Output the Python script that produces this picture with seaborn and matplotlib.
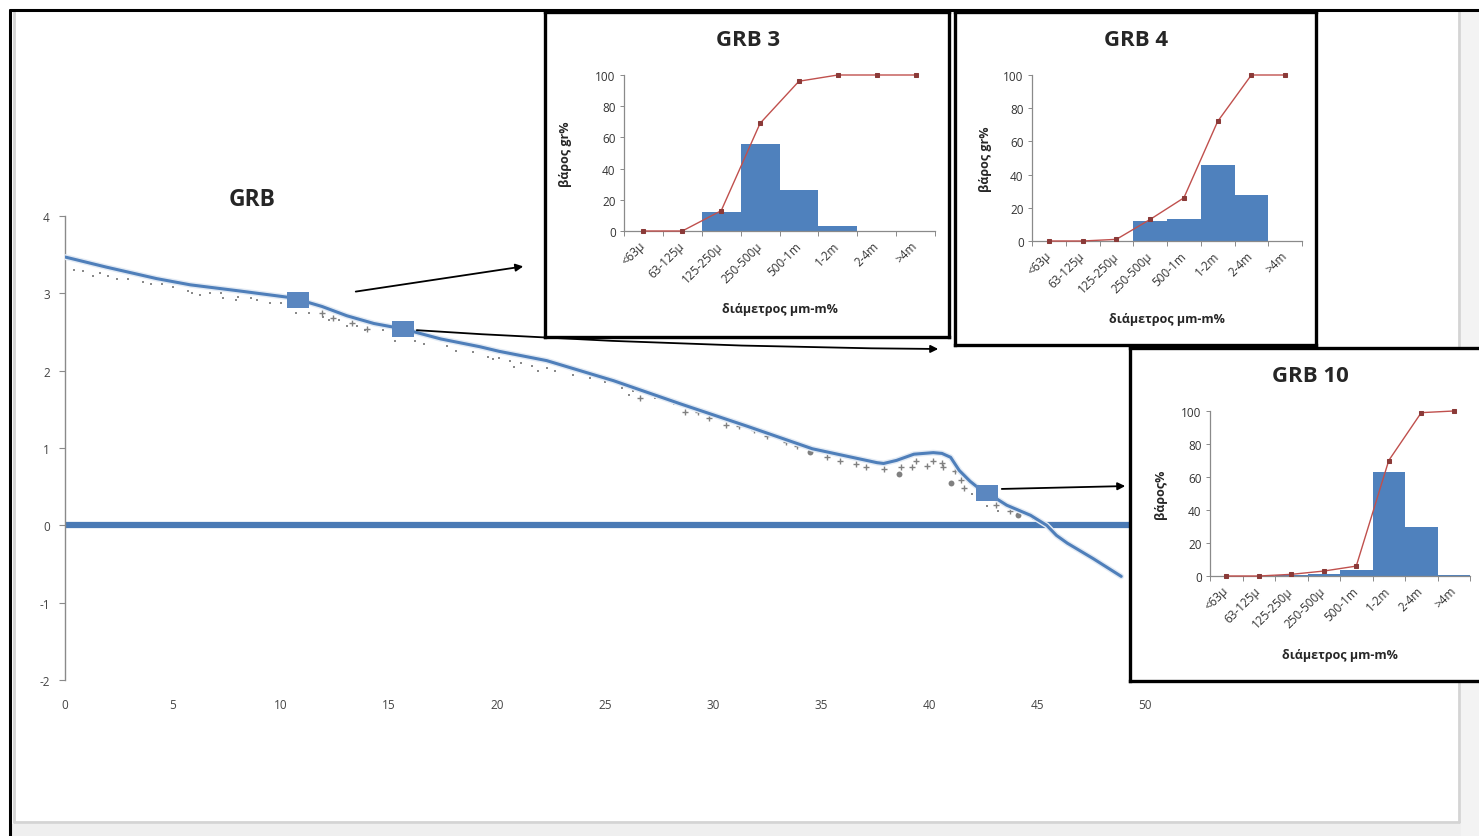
import numpy as np
import pandas as pd
import matplotlib
matplotlib.use("Agg")
import matplotlib.pyplot as plt
import matplotlib.patheffects as pe
from matplotlib.patches import Rectangle, FancyArrowPatch
from matplotlib.lines import Line2D
import seaborn as sns

# ---------------- data ----------------
profile_x = [0, 1.9, 4.25, 5.8, 8.1, 10.3, 10.8, 11.9, 13.05, 14.3, 15.65, 17.4, 19.2, 20.1,
             22.3, 25.4, 28.5, 31.6, 34.6, 37.6, 37.9, 38.5, 39.3, 40.2, 40.6, 41.0, 41.4,
             41.9, 42.3, 42.7, 43.6, 44.7, 45.45, 45.9, 46.4, 47.6, 48.9]
profile_y = [3.47, 3.34, 3.19, 3.11, 3.03, 2.95, 2.92, 2.83, 2.71, 2.61, 2.54, 2.41, 2.31, 2.25,
             2.13, 1.87, 1.57, 1.28, 0.99, 0.81, 0.80, 0.84, 0.92, 0.94, 0.93, 0.88, 0.71,
             0.57, 0.48, 0.42, 0.26, 0.13, 0.0, -0.13, -0.23, -0.43, -0.66]

sample_x = [10.8, 15.65, 42.7]
sample_y = [2.92, 2.54, 0.42]

dots_x = [0.4, 0.85, 1.3, 1.6, 2.0, 2.4, 2.9, 3.6, 4.0, 4.5, 5.0, 5.7, 5.9, 6.25, 6.7, 7.2, 7.3,
          7.9, 8.0, 8.6, 8.9, 9.5, 10.0, 10.7, 11.3, 11.95, 12.2, 12.7, 13.05, 13.5, 13.9, 14.7,
          15.3, 16.2, 16.6, 17.7, 18.1, 18.9, 19.6, 19.8, 20.1, 20.6, 20.8, 21.1, 21.6, 21.9,
          22.3, 22.7, 23.5, 24.3, 25.0, 25.8, 26.1, 26.3, 27.3, 28.2, 42.0, 42.7, 43.2, 44.8, 45.5]
dots_y = [3.30, 3.29, 3.23, 3.26, 3.22, 3.19, 3.19, 3.15, 3.12, 3.12, 3.08, 3.03, 3.01, 2.98, 3.0,
          3.0, 2.94, 2.92, 2.95, 2.94, 2.92, 2.88, 2.88, 2.75, 2.75, 2.70, 2.65, 2.66, 2.58, 2.58,
          2.52, 2.52, 2.39, 2.39, 2.34, 2.32, 2.26, 2.24, 2.18, 2.15, 2.17, 2.13, 2.05, 2.10, 2.06,
          1.99, 2.04, 1.99, 1.95, 1.91, 1.85, 1.78, 1.68, 1.74, 1.65, 1.57, 0.40, 0.25, 0.18, 0.08,
          -0.04]

cross_x = [11.9, 12.4, 13.3, 14.0, 26.6, 28.7, 29.3, 29.8, 30.6, 31.2, 31.9, 32.5, 33.4, 33.9,
           35.3, 35.9, 36.6, 37.1, 37.9, 38.7, 39.2, 39.4, 39.9, 40.2, 40.6, 40.65, 41.2, 41.5,
           41.6, 43.1, 43.75]
cross_y = [2.74, 2.68, 2.62, 2.54, 1.65, 1.47, 1.47, 1.39, 1.30, 1.28, 1.23, 1.15, 1.08, 1.03,
           0.88, 0.83, 0.79, 0.75, 0.73, 0.75, 0.75, 0.83, 0.77, 0.83, 0.80, 0.76, 0.70, 0.58,
           0.48, 0.26, 0.18]

big_x = [38.6, 41.0, 34.5, 44.1]
big_y = [0.66, 0.55, 0.95, 0.14]

sea_x = [0, 50]
sea_y = [0, 0]

main_xticks = [0, 5, 10, 15, 20, 25, 30, 35, 40, 45, 50]
main_yticks = [-2, -1, 0, 1, 2, 3, 4]

size_classes = ["<63μ", "63-125μ", "125-250μ", "250-500μ", "500-1m", "1-2m", "2-4m", ">4m"]

grb3_pct = [0, 0, 12, 56, 26, 3.5, 0, 0]
grb3_cum = [0, 0, 13, 69, 96, 100, 100, 100]
grb4_pct = [0, 0, 0, 12, 13, 46, 27.5, 0]
grb4_cum = [0, 0, 1, 13, 26, 72, 100, 100]
grb10_pct = [0, 0, 0.5, 1.5, 3.5, 63, 30, 0.5]
grb10_cum = [0, 0, 1, 3, 6, 70, 99, 100]

# ---------------- style ----------------
sns.set_style("white")
plt.rcParams["font.family"] = ["Open Sans", "DejaVu Sans"]
plt.rcParams["axes.unicode_minus"] = False

W, H = 1479, 837
fig = plt.figure(figsize=(W / 100, H / 100), dpi=100)
fig.patch.set_facecolor("white")


def rect(x0, y0, x1, y1):
    return [x0 / W, 1 - y1 / H, (x1 - x0) / W, (y1 - y0) / H]


def fpt(x, y):
    return (x / W, 1 - y / H)


BLUE = "#4f81bd"
LINEBLUE = "#4a7ab5"
RED = "#c0504d"
DARKRED = "#8b3a38"
GRAY = "#808080"
AXGRAY = "#8a8a8a"

# ---------------- outer frame ----------------
fig.add_artist(Rectangle(fpt(11, 837), (W - 11) / W, 12 / H, transform=fig.transFigure,
                         facecolor="#efefef", edgecolor="none", zorder=-5))
fig.add_artist(Rectangle(fpt(1461, 837), 18 / W, (837 - 12) / H, transform=fig.transFigure,
                         facecolor="#f3f3f3", edgecolor="none", zorder=-5))
for xs, ys, c, lw in [([14, 14], [13, 823], "#d4d4d4", 2.0),
                      ([1459, 1459], [13, 823], "#d4d4d4", 2.0),
                      ([14, 1459], [823, 823], "#d4d4d4", 2.0),
                      ([10, 1479], [11, 11], "black", 2.2),
                      ([10, 10], [11, 837], "black", 2.2)]:
    fig.add_artist(Line2D([x / W for x in xs], [1 - y / H for y in ys],
                          transform=fig.transFigure, color=c, lw=lw, zorder=-4))

# ---------------- main chart ----------------
ax = fig.add_axes(rect(65, 217, 1145, 681), zorder=0)
ax.set_facecolor("none")

sns.lineplot(x=sea_x, y=sea_y, ax=ax, color=LINEBLUE, lw=4.5, zorder=2)
sns.scatterplot(x=dots_x, y=dots_y, ax=ax, color="#8a8a8a", marker="s", s=3, linewidth=0, zorder=3)
sns.scatterplot(x=cross_x, y=cross_y, ax=ax, color=GRAY, marker="+", s=18, linewidth=1.0, zorder=3)
sns.scatterplot(x=big_x, y=big_y, ax=ax, color=GRAY, marker="o", s=18, linewidth=0, zorder=3)
sns.lineplot(x=profile_x, y=profile_y, ax=ax, color="#4f7fba", lw=2.2, zorder=4, sort=False,
             path_effects=[pe.Stroke(linewidth=4.2, foreground="#e2eaf4"), pe.Normal()])
rect_marker = [(-1.35, -1), (1.35, -1), (1.35, 1), (-1.35, 1), (-1.35, -1)]
sns.scatterplot(x=sample_x, y=sample_y, ax=ax, color="#5b87c0", marker=rect_marker, s=250,
                linewidth=0, zorder=5)

ax.set_xlim(0, 50)
ax.set_ylim(-2, 4)
ax.set_xticks(main_xticks)
ax.set_yticks(main_yticks)
ax.set_xticklabels([str(v) for v in main_xticks])
ax.set_yticklabels([str(v) for v in main_yticks])
for sp in ["top", "right", "bottom"]:
    ax.spines[sp].set_visible(False)
ax.spines["left"].set_color(AXGRAY)
ax.spines["left"].set_linewidth(1.0)
ax.tick_params(axis="y", direction="out", length=4, width=0.8, color=AXGRAY, pad=7,
               labelsize=8.5, labelcolor="#444444", left=True)
ax.tick_params(axis="x", length=0, pad=13, labelsize=8.5, labelcolor="#444444")
ax.set_xlabel("")
ax.set_ylabel("")
fig.text(*fpt(252, 200), "GRB", fontsize=16.5, fontweight="bold", ha="center", va="center")

# ---------------- arrows ----------------
arrow_kw = dict(transform=fig.transFigure, arrowstyle="-|>", mutation_scale=11,
                color="black", lw=1.3, zorder=1.5)
fig.add_artist(FancyArrowPatch(fpt(353, 293), fpt(526, 267), **arrow_kw))
fig.add_artist(FancyArrowPatch(fpt(414, 331), fpt(941, 350),
                               connectionstyle="arc3,rad=0.015", **arrow_kw))
fig.add_artist(FancyArrowPatch(fpt(999, 490), fpt(1128, 487), **arrow_kw))


# ---------------- insets ----------------
def inset(box, axbox, title, title_pos, pct, cum, ylabel, ylab_dx):
    frame = fig.add_axes(rect(*box), zorder=2)
    frame.set_facecolor("white")
    frame.set_xticks([])
    frame.set_yticks([])
    for sp in frame.spines.values():
        sp.set_color("black")
        sp.set_linewidth(2.4)
    fig.text(*fpt(*title_pos), title, fontsize=16, fontweight="bold", ha="center", va="center",
             zorder=4)

    a = fig.add_axes(rect(*axbox), zorder=3)
    a.set_facecolor("none")
    df = pd.DataFrame({"cls": size_classes, "pct": pct})
    sns.barplot(data=df, x="cls", y="pct", ax=a, width=1.0, color=BLUE, saturation=1,
                order=size_classes, zorder=2, linewidth=0)
    sns.lineplot(x=np.arange(len(cum)), y=cum, ax=a, color=RED, lw=1.0, marker="s",
                 markersize=3.2, markerfacecolor=DARKRED, markeredgecolor=DARKRED,
                 zorder=3, clip_on=False)
    a.set_xlim(-0.5, len(size_classes) - 0.5)
    a.set_ylim(0, 100)
    a.set_yticks([0, 20, 40, 60, 80, 100])
    a.set_xticks(np.arange(len(size_classes)))
    a.set_xticklabels(size_classes, rotation=45, ha="right", va="center",
                      rotation_mode="anchor", fontsize=8.5, color="#333333")
    a.set_xticks(np.arange(-0.5, len(size_classes)), minor=True)
    a.tick_params(axis="x", which="major", length=0, pad=9)
    a.tick_params(axis="x", which="minor", length=3.5, width=0.7, color=AXGRAY,
                  direction="out", bottom=True)
    a.tick_params(axis="y", length=3, width=0.7, color=AXGRAY, direction="out", left=True,
                  labelsize=8.5, labelcolor="#333333", pad=3)
    for sp in ["top", "right"]:
        a.spines[sp].set_visible(False)
    for sp in ["left", "bottom"]:
        a.spines[sp].set_color(AXGRAY)
        a.spines[sp].set_linewidth(0.9)
    a.set_xlabel("")
    a.set_ylabel("")
    w = axbox[2] - axbox[0]
    h = axbox[3] - axbox[1]
    a.text(0.5, -78 / h, "διάμετρος μm-m%", transform=a.transAxes, ha="center", va="center",
           fontsize=9, fontweight="bold")
    a.text(-ylab_dx / w, 0.5, ylabel, transform=a.transAxes, ha="center", va="center",
           rotation=90, fontsize=9, fontweight="bold")
    return a


inset((545, 13, 949, 338), (624, 76, 935, 232), "GRB 3", (748, 40),
      grb3_pct, grb3_cum, "βάρος gr%", 58)
inset((955, 13, 1316, 346), (1032, 76, 1302, 242), "GRB 4", (1136, 40),
      grb4_pct, grb4_cum, "βάρος gr%", 47)
inset((1130, 349, 1500, 682), (1210, 412, 1470, 577), "GRB 10", (1310, 377),
      grb10_pct, grb10_cum, "βάρος%", 50)

fig.savefig("out.png", dpi=100)
